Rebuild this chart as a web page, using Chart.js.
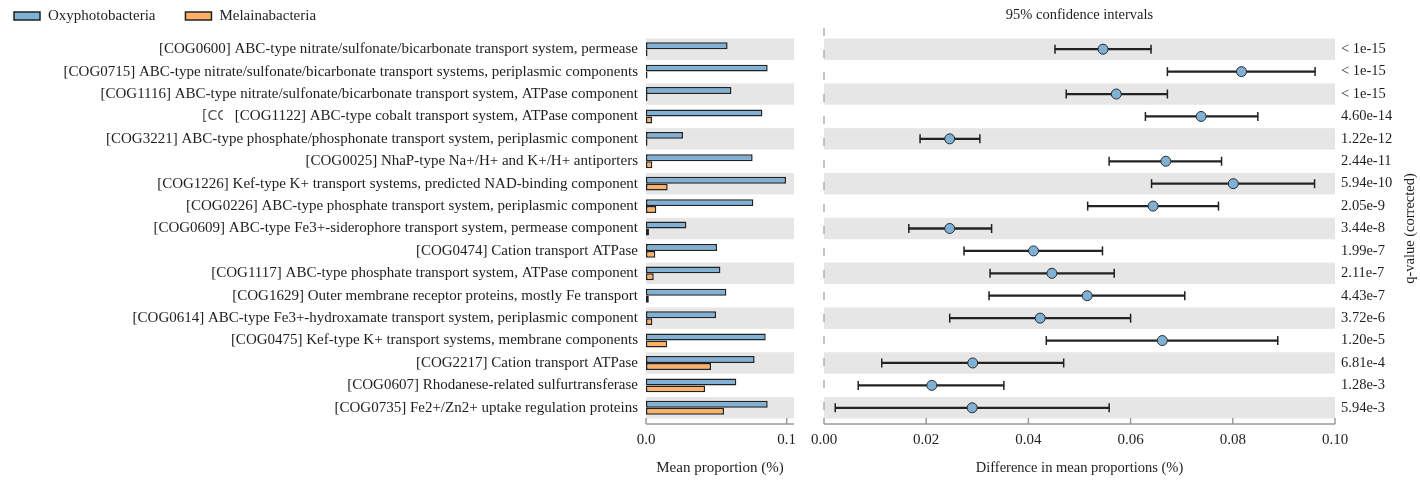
<!DOCTYPE html>
<html>
<head>
<meta charset="utf-8">
<script src="https://cdn.jsdelivr.net/npm/chart.js@4.4.1/dist/chart.umd.min.js"></script>
<style>
  html, body { margin: 0; padding: 0; background: #fff; }
  #wrap { position: relative; width: 1420px; height: 480px; overflow: hidden; }
  #meanChart { position: absolute; left: 0; top: 0; }
  #diffChart { position: absolute; left: 806px; top: 0; }
</style>
</head>
<body>
<div id="wrap">
  <canvas id="meanChart" width="800" height="480"></canvas>
  <canvas id="diffChart" width="614" height="480"></canvas>
</div>
<script>
// data
const categories = [
  "[COG0600] ABC-type nitrate/sulfonate/bicarbonate transport system, permease",
  "[COG0715] ABC-type nitrate/sulfonate/bicarbonate transport systems, periplasmic components",
  "[COG1116] ABC-type nitrate/sulfonate/bicarbonate transport system, ATPase component",
  "[COG1122] ABC-type cobalt transport system, ATPase component",
  "[COG3221] ABC-type phosphate/phosphonate transport system, periplasmic component",
  "[COG0025] NhaP-type Na+/H+ and K+/H+ antiporters",
  "[COG1226] Kef-type K+ transport systems, predicted NAD-binding component",
  "[COG0226] ABC-type phosphate transport system, periplasmic component",
  "[COG0609] ABC-type Fe3+-siderophore transport system, permease component",
  "[COG0474] Cation transport ATPase",
  "[COG1117] ABC-type phosphate transport system, ATPase component",
  "[COG1629] Outer membrane receptor proteins, mostly Fe transport",
  "[COG0614] ABC-type Fe3+-hydroxamate transport system, periplasmic component",
  "[COG0475] Kef-type K+ transport systems, membrane components",
  "[COG2217] Cation transport ATPase",
  "[COG0607] Rhodanese-related sulfurtransferase",
  "[COG0735] Fe2+/Zn2+ uptake regulation proteins"
];
const oxyMean = [0.058, 0.0865, 0.0607, 0.0827, 0.0263, 0.0758, 0.0995, 0.0763, 0.0287,
  0.0505, 0.0529, 0.0571, 0.0498, 0.0851, 0.0772, 0.0642, 0.0865];
const melMean = [0.0002, 0.0002, 0.0002, 0.0043, 0.0002, 0.0045, 0.0154, 0.0073, 0.0021,
  0.0066, 0.0055, 0.002, 0.0045, 0.015, 0.0462, 0.042, 0.0555];
const diffMean = [0.0546, 0.0817, 0.0572, 0.0738, 0.0246, 0.0669, 0.0801, 0.0644, 0.0246,
  0.041, 0.0446, 0.0515, 0.0423, 0.0662, 0.0291, 0.0211, 0.029];
const ciLow = [0.0452, 0.0672, 0.0474, 0.0629, 0.0188, 0.0558, 0.0641, 0.0516, 0.0166,
  0.0274, 0.0325, 0.0323, 0.0246, 0.0435, 0.0113, 0.0067, 0.0022];
const ciHigh = [0.064, 0.0961, 0.0672, 0.0849, 0.0305, 0.0778, 0.096, 0.0772, 0.0328,
  0.0545, 0.0568, 0.0706, 0.06, 0.0888, 0.0469, 0.0352, 0.0558];
const qValues = ["< 1e-15", "< 1e-15", "< 1e-15", "4.60e-14", "1.22e-12", "2.44e-11",
  "5.94e-10", "2.05e-9", "3.44e-8", "1.99e-7", "2.11e-7", "4.43e-7", "3.72e-6",
  "1.20e-5", "6.81e-4", "1.28e-3", "5.94e-3"];
const meanTicks = [0, 0.1];
const diffTicks = [0, 0.02, 0.04, 0.06, 0.08, 0.1];

const serif = '"Liberation Serif", "Times New Roman", serif';
const textColor = "#1e1e1e";
const blue = "#7fb0d5";
const orange = "#ffb266";
const edge = "#222";

// shared hooks
const fixX = s => { s.height = 61; s.paddingLeft = 0; s.paddingRight = 0; };

const rowBands = {
  id: "rowBands",
  beforeDatasetsDraw(chart) {
    const { ctx, chartArea: a, scales: { y } } = chart;
    const h = (a.bottom - a.top) / categories.length;
    ctx.save();
    ctx.fillStyle = "#e6e6e6";
    categories.forEach((c, i) => {
      if (i % 2) return;
      const cy = y.getPixelForValue(i);
      ctx.fillRect(a.left, cy - h / 2 + 0.5, a.right - a.left, h - 1);
    });
    ctx.restore();
  }
};

const bottomAxis = {
  id: "bottomAxis",
  afterDraw(chart) {
    const { ctx, chartArea: a, scales: { x } } = chart;
    const yy = a.bottom + 5;
    ctx.save();
    ctx.strokeStyle = "#9a9a9a";
    ctx.lineWidth = 1.5;
    ctx.beginPath();
    ctx.moveTo(x.left, yy);
    ctx.lineTo(x.right, yy);
    x.ticks.forEach(t => {
      const px = x.getPixelForValue(t.value);
      ctx.moveTo(px, yy);
      ctx.lineTo(px, yy - 6);
    });
    ctx.stroke();
    ctx.restore();
  }
};

// legend + stray label fragment, left panel
const boxLegend = {
  id: "boxLegend",
  afterDraw(chart) {
    const { ctx, scales: { y } } = chart;
    ctx.save();
    ctx.font = "15px " + serif;
    ctx.textBaseline = "middle";
    let x = 14;
    chart.data.datasets.forEach(ds => {
      ctx.fillStyle = ds.backgroundColor;
      ctx.fillRect(x, 12, 26, 8);
      ctx.strokeStyle = edge;
      ctx.lineWidth = 1.5;
      ctx.strokeRect(x, 12, 26, 8);
      ctx.fillStyle = textColor;
      ctx.fillText(ds.label, x + 34, 16);
      x += 34 + ctx.measureText(ds.label).width + 30;
    });
    ctx.beginPath();
    ctx.rect(190, 100, 33, 30);
    ctx.clip();
    ctx.font = '14px "DejaVu Sans", sans-serif';
    ctx.fillStyle = "#555";
    ctx.fillText("[CC", 202, y.getPixelForValue(3));
    ctx.restore();
  }
};

// zero line and text of the right panel
const zeroLine = {
  id: "zeroLine",
  beforeDatasetsDraw(chart) {
    const { ctx, chartArea: a, scales: { x } } = chart;
    const px = x.getPixelForValue(0);
    ctx.save();
    ctx.strokeStyle = "#b0b0b0";
    ctx.lineWidth = 1.5;
    ctx.setLineDash([8, 14]);
    ctx.beginPath();
    ctx.moveTo(px, a.top - 10);
    ctx.lineTo(px, a.bottom + 2);
    ctx.stroke();
    ctx.restore();
  },
  afterDraw(chart) {
    const { ctx, chartArea: a } = chart;
    ctx.save();
    ctx.fillStyle = textColor;
    ctx.font = "14.5px " + serif;
    ctx.textAlign = "center";
    ctx.textBaseline = "middle";
    ctx.fillText("95% confidence intervals", (a.left + a.right) / 2, 15);
    ctx.translate(chart.width - 10, (a.top + a.bottom) / 2);
    ctx.rotate(-Math.PI / 2);
    ctx.fillText("q-value (corrected)", 0, 0);
    ctx.restore();
  }
};

// ===============================
// Mean proportion (left)
// ===============================
new Chart(document.getElementById("meanChart"), {
  type: "bar",
  data: {
    labels: categories,
    datasets: [
      { label: "Oxyphotobacteria", data: oxyMean, backgroundColor: blue },
      { label: "Melainabacteria", data: melMean, backgroundColor: orange, minBarLength: 1.5 }
    ]
  },
  options: {
    indexAxis: "y",
    responsive: false,
    animation: false,
    layout: { padding: { top: 38, right: 6, left: 0, bottom: 0 } },
    datasets: {
      bar: {
        borderColor: edge, borderWidth: 1.5, borderSkipped: false,
        categoryPercentage: 0.62, barPercentage: 1.0
      }
    },
    plugins: { legend: { display: false }, tooltip: { enabled: false } },
    scales: {
      x: {
        min: 0, max: 0.1052,
        afterBuildTicks: s => { s.ticks = meanTicks.map(v => ({ value: v })); },
        afterFit: fixX,
        grid: { display: false, drawTicks: true, tickLength: 10 },
        border: { display: false },
        ticks: { padding: 2, color: textColor, font: { family: serif, size: 15 },
          callback: v => v.toFixed(1) },
        title: { display: true, text: "Mean proportion (%)", color: textColor,
          font: { family: serif, size: 15 }, padding: { top: 0, bottom: 3 } }
      },
      y: {
        afterFit: s => { s.width = 646; s.paddingTop = 0; s.paddingBottom = 0; },
        grid: { display: false, drawTicks: false },
        border: { display: false },
        ticks: { padding: 8, color: textColor, font: { family: serif, size: 15 }, autoSkip: false }
      }
    }
  },
  plugins: [rowBands, bottomAxis, boxLegend]
});

// ===============================
// Difference with 95% CI (right)
// ===============================
const capStyle = {
  type: "line", showLine: false, pointStyle: "line", pointRotation: 90,
  pointRadius: 4.5, pointBorderWidth: 1.5, pointBorderColor: edge, order: 1
};

new Chart(document.getElementById("diffChart"), {
  type: "bar",
  data: {
    labels: categories,
    datasets: [
      {
        type: "line", showLine: false, order: 0,
        data: diffMean.map((v, i) => ({ x: v, y: categories[i] })),
        pointRadius: 5, pointBackgroundColor: blue, pointBorderColor: "#2a2a2a", pointBorderWidth: 1
      },
      Object.assign({ data: ciLow.map((v, i) => ({ x: v, y: categories[i] })) }, capStyle),
      Object.assign({ data: ciHigh.map((v, i) => ({ x: v, y: categories[i] })) }, capStyle),
      {
        type: "bar", order: 2,
        data: ciLow.map((v, i) => [v, ciHigh[i]]),
        backgroundColor: edge, borderWidth: 0, barThickness: 1.6
      }
    ]
  },
  options: {
    indexAxis: "y",
    responsive: false,
    animation: false,
    layout: { padding: { top: 38, right: 0, left: 18, bottom: 0 } },
    plugins: { legend: { display: false }, tooltip: { enabled: false } },
    scales: {
      x: {
        min: 0, max: 0.1,
        afterBuildTicks: s => { s.ticks = diffTicks.map(v => ({ value: v })); },
        afterFit: fixX,
        grid: { display: false, drawTicks: true, tickLength: 10 },
        border: { display: false },
        ticks: { padding: 2, color: textColor, font: { family: serif, size: 15 },
          callback: v => v.toFixed(2) },
        title: { display: true, text: "Difference in mean proportions (%)", color: textColor,
          font: { family: serif, size: 14.5 }, padding: { top: 0, bottom: 3 } }
      },
      y: {
        position: "right",
        afterFit: s => { s.width = 85; s.paddingTop = 0; s.paddingBottom = 0; },
        grid: { display: false, drawTicks: false },
        border: { display: false },
        ticks: { padding: 6, color: textColor, font: { family: serif, size: 14.5 }, autoSkip: false,
          callback: (v, i) => qValues[i] }
      }
    }
  },
  plugins: [rowBands, zeroLine, bottomAxis]
});
</script>
</body>
</html>
